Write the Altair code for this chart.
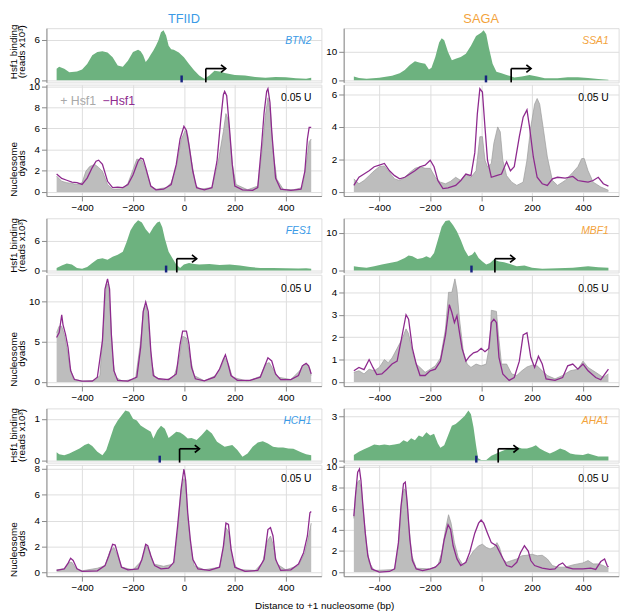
import altair as alt
import pandas as pd

FONT = "Liberation Sans"
W = 279
H_TOP = 55
H_BOT = 113
XDOM = [-540, 540]

GREEN = "#6db27f"
GREY_FILL = "#bdbdbd"
GREY_LINE = "#9a9a9a"
PURPLE = "#8e2a8e"
NAVY = "#17237f"
TFIID_BLUE = "#3a9ae6"
SAGA_ORANGE = "#f3a33c"

# ---------------- data (bp, value) ----------------
BTN2_HSF = [(-500,1.7),(-490,2.0),(-470,1.7),(-450,1.2),(-420,1.3),(-400,1.6),(-380,2.4),(-360,3.7),(-340,4.2),(-320,4.3),(-300,4.1),(-280,3.4),(-260,2.2),(-240,2.0),(-220,2.9),(-200,4.2),(-180,4.5),(-170,4.3),(-160,3.7),(-150,2.7),(-140,3.2),(-130,3.8),(-120,4.4),(-110,5.1),(-100,5.9),(-90,7.1),(-80,7.4),(-70,6.6),(-60,5.1),(-50,4.6),(-40,4.5),(-20,4.1),(0,3.4),(20,2.4),(40,1.5),(60,0.7),(80,0.25),(100,0.7),(120,1.4),(140,1.3),(160,1.1),(200,0.8),(240,0.7),(280,0.5),(320,0.4),(360,0.5),(400,0.45),(440,0.3),(480,0.25),(500,0.4)]
BTN2_MINUS = [(-500,1.7),(-480,1.27),(-460,1.1),(-440,0.93),(-420,0.87),(-400,0.7),(-380,1.3),(-360,2.3),(-345,2.9),(-335,3.0),(-320,2.6),(-300,1.0),(-280,0.4),(-260,0.45),(-240,0.4),(-220,0.7),(-200,1.6),(-180,2.9),(-170,3.2),(-160,3.1),(-150,2.3),(-130,0.55),(-110,0.2),(-80,0.25),(-50,0.7),(-30,2.6),(-15,5.0),(0,6.2),(10,5.8),(20,4.4),(35,1.95),(50,0.4),(80,0.2),(110,0.4),(130,2.9),(145,6.9),(155,9.2),(160,9.5),(168,9.1),(180,5.7),(190,2.6),(200,0.55),(230,0.2),(270,0.15),(290,0.4),(305,4.4),(315,7.5),(325,9.5),(330,9.75),(338,8.45),(345,5.7),(360,1.3),(380,0.25),(420,0.15),(460,0.25),(475,1.95),(485,5.0),(492,6.1),(500,6.1)]
BTN2_PLUS = [(-500,1.5),(-480,1.0),(-460,0.87),(-440,0.8),(-420,0.7),(-400,0.87),(-385,1.95),(-370,2.4),(-350,2.6),(-335,2.3),(-320,1.95),(-300,0.7),(-280,0.25),(-240,0.3),(-220,0.8),(-200,2.1),(-185,3.1),(-165,3.0),(-150,2.1),(-130,0.55),(-110,0.25),(-70,0.4),(-50,0.87),(-30,2.3),(-10,5.0),(5,5.8),(15,5.35),(30,2.9),(45,0.7),(60,0.25),(110,0.4),(135,2.9),(155,5.7),(165,7.4),(175,6.75),(190,2.6),(205,0.7),(250,0.2),(290,0.55),(305,3.5),(320,7.2),(330,8.9),(340,7.5),(350,3.8),(365,1.2),(390,0.25),(430,0.2),(465,0.4),(480,2.6),(492,4.75),(500,5.0)]

SSA1_HSF = [(-500,1.35),(-480,0.8),(-450,0.55),(-400,0.9),(-350,1.6),(-320,2.5),(-300,3.6),(-280,5.3),(-260,6.6),(-240,6.1),(-220,5.8),(-205,3.8),(-195,4.4),(-180,8.1),(-165,13.1),(-155,14.6),(-145,13.9),(-130,9.8),(-115,7.0),(-100,7.5),(-80,8.1),(-60,9.2),(-40,12.0),(-20,15.4),(0,16.5),(10,17.4),(20,15.95),(30,11.5),(45,5.8),(60,3.0),(80,2.5),(100,1.9),(130,1.0),(160,1.35),(190,1.9),(220,1.35),(250,0.7),(300,0.7),(340,1.1),(380,1.1),(420,0.8),(460,0.45),(500,0.2)]
SSA1_MINUS = [(-500,0.4),(-480,0.9),(-460,1.1),(-440,1.3),(-420,1.55),(-400,1.65),(-380,1.75),(-360,1.3),(-340,1.0),(-320,0.8),(-300,0.9),(-280,1.1),(-260,1.3),(-240,1.55),(-220,1.65),(-200,1.95),(-185,1.55),(-170,0.7),(-150,0.2),(-130,0.25),(-100,0.4),(-80,0.7),(-60,1.1),(-40,1.0),(-25,2.4),(-15,4.8),(-5,6.35),(5,6.15),(15,4.0),(25,1.95),(40,0.9),(60,1.0),(80,1.1),(100,1.85),(115,1.3),(130,1.55),(150,3.4),(165,4.6),(180,5.05),(190,4.0),(205,2.15),(220,0.9),(240,0.5),(260,0.4),(280,0.8),(300,0.9),(330,0.85),(360,0.95),(380,0.7),(400,0.65),(420,0.6),(440,0.7),(460,0.9),(480,0.5),(500,0.35)]
SSA1_PLUS = [(-500,0.8),(-480,0.5),(-460,0.7),(-440,1.0),(-420,1.3),(-400,1.55),(-380,1.6),(-360,1.2),(-340,0.8),(-320,0.7),(-300,0.9),(-280,1.2),(-260,1.45),(-240,1.55),(-220,1.45),(-200,1.45),(-180,0.9),(-160,0.6),(-140,0.5),(-120,0.65),(-100,0.9),(-80,0.7),(-60,1.1),(-40,0.9),(-20,1.3),(-5,3.4),(5,3.4),(15,1.95),(25,1.55),(40,1.75),(50,3.0),(65,4.0),(75,3.7),(85,1.95),(100,1.0),(120,0.6),(140,0.4),(165,0.6),(180,1.95),(195,4.0),(210,5.4),(220,5.75),(230,5.4),(245,3.8),(260,2.15),(280,0.7),(300,0.4),(330,0.7),(360,1.2),(380,1.55),(395,2.05),(405,2.05),(420,1.3),(440,0.6),(470,0.3),(500,0.1)]

FES1_HSF = [(-500,0.5),(-480,1.0),(-460,1.4),(-440,1.2),(-420,0.5),(-400,0.35),(-380,0.7),(-360,1.5),(-340,2.3),(-320,2.5),(-300,2.2),(-280,2.8),(-260,3.2),(-240,3.8),(-225,5.8),(-210,8.1),(-195,9.4),(-180,10.2),(-165,9.75),(-150,8.4),(-135,7.45),(-120,8.8),(-105,9.75),(-95,9.95),(-85,8.8),(-75,6.5),(-60,3.8),(-45,2.5),(-30,1.2),(-15,0.5),(0,1.2),(20,1.5),(40,1.3),(60,1.2),(100,1.3),(140,1.1),(180,1.2),(220,1.0),(260,0.7),(300,0.5),(350,0.5),(400,0.45),(450,0.4),(480,0.45),(500,0.35)]
FES1_MINUS = [(-500,5.5),(-490,6.1),(-480,8.3),(-475,7.1),(-465,5.9),(-455,4.25),(-445,1.4),(-430,0.3),(-400,0.1),(-360,0.1),(-340,0.6),(-320,5.1),(-310,11.5),(-300,12.75),(-292,11.5),(-285,5.9),(-275,1.4),(-260,0.2),(-220,0.1),(-185,0.6),(-170,4.25),(-160,8.7),(-150,9.9),(-140,8.7),(-130,3.85),(-120,0.8),(-100,0.4),(-60,0.3),(-30,1.0),(-15,4.65),(-5,6.3),(10,6.3),(20,4.65),(30,1.8),(45,0.4),(80,0.15),(120,0.6),(140,1.6),(155,2.8),(163,3.35),(172,2.4),(185,0.8),(210,0.2),(260,0.2),(300,0.6),(315,1.8),(330,3.0),(345,2.6),(360,1.0),(380,0.3),(420,0.3),(450,0.8),(465,2.0),(480,2.3),(490,2.0),(500,1.0)]
FES1_PLUS = [(-500,6.1),(-490,6.9),(-480,6.9),(-470,5.9),(-460,4.25),(-450,2.2),(-435,0.4),(-400,0.1),(-350,0.2),(-330,0.8),(-315,7.5),(-305,12.1),(-298,12.1),(-290,9.1),(-280,3.0),(-270,0.6),(-240,0.1),(-190,0.4),(-170,5.05),(-158,9.1),(-148,9.5),(-138,7.1),(-128,2.6),(-115,0.6),(-80,0.2),(-40,0.6),(-20,2.6),(-5,5.65),(10,5.45),(25,3.0),(40,0.8),(80,0.15),(125,0.8),(145,1.8),(160,3.0),(175,2.2),(190,0.6),(250,0.1),(300,0.7),(320,2.2),(335,2.4),(350,1.6),(370,0.6),(420,0.3),(455,1.4),(470,2.15),(485,2.2),(495,1.6),(500,0.8)]

MBF1_HSF = [(-500,1.1),(-480,0.95),(-450,0.7),(-420,1.1),(-390,1.55),(-360,2.0),(-330,2.4),(-300,3.3),(-285,4.0),(-270,3.75),(-250,3.05),(-230,3.3),(-215,3.75),(-200,3.3),(-185,4.6),(-170,8.1),(-155,11.6),(-140,13.1),(-125,13.3),(-110,12.0),(-95,10.3),(-80,8.1),(-65,5.5),(-50,3.75),(-35,4.2),(-25,5.05),(-10,3.3),(5,2.4),(20,1.55),(35,2.0),(50,2.9),(70,2.4),(90,2.2),(110,1.8),(140,1.1),(170,1.3),(200,0.7),(240,0.45),(300,0.6),(360,0.7),(420,1.1),(460,0.85),(500,0.7)]
MBF1_MINUS = [(-500,0.5),(-480,0.65),(-460,0.55),(-440,1.0),(-425,0.65),(-410,0.33),(-390,0.36),(-370,0.57),(-350,0.8),(-330,0.93),(-310,2.1),(-295,3.0),(-285,2.8),(-270,1.5),(-255,0.8),(-240,0.29),(-220,0.29),(-200,0.5),(-180,0.57),(-160,0.93),(-140,2.1),(-125,3.45),(-115,3.1),(-105,2.65),(-95,2.95),(-85,2.2),(-75,1.5),(-60,0.93),(-45,1.15),(-30,1.3),(-15,1.35),(0,1.5),(15,1.35),(30,1.5),(40,2.65),(50,2.8),(60,2.65),(70,1.1),(85,0.36),(110,0.07),(130,0.2),(150,0.93),(165,2.1),(180,2.2),(195,1.1),(210,0.65),(225,1.15),(240,0.8),(255,0.14),(290,0.07),(320,0.2),(340,0.72),(360,0.8),(380,0.57),(400,0.8),(420,0.5),(450,0.2),(470,0.1),(500,0.57)]
MBF1_PLUS = [(-500,0.43),(-480,0.5),(-460,0.36),(-440,0.57),(-420,0.5),(-400,0.65),(-380,1.0),(-365,0.86),(-350,1.07),(-330,1.5),(-310,1.93),(-295,2.37),(-285,2.15),(-270,1.36),(-255,0.8),(-240,0.65),(-220,0.43),(-200,0.57),(-180,0.72),(-160,1.07),(-140,2.37),(-128,4.0),(-115,4.0),(-103,4.6),(-95,4.1),(-85,2.8),(-70,1.36),(-55,0.8),(-40,0.65),(-20,0.8),(0,0.72),(20,0.8),(35,1.8),(40,3.2),(60,3.15),(68,2.1),(80,0.8),(100,0.8),(120,0.36),(140,0.29),(160,0.5),(180,0.67),(200,0.75),(220,0.72),(240,0.5),(260,0.29),(290,0.14),(320,0.29),(350,0.5),(380,0.57),(400,0.93),(420,0.65),(450,0.43),(480,0.2),(500,0.36)]

HCH1_HSF = [(-500,0.2),(-490,0.15),(-470,0.13),(-450,0.17),(-430,0.23),(-410,0.29),(-390,0.37),(-375,0.41),(-360,0.35),(-340,0.21),(-320,0.13),(-305,0.25),(-290,0.53),(-275,0.8),(-260,0.96),(-245,1.08),(-230,1.2),(-215,1.17),(-200,1.0),(-185,0.96),(-170,0.84),(-150,0.76),(-130,0.69),(-120,0.53),(-105,0.72),(-90,0.83),(-75,0.76),(-60,0.54),(-45,0.61),(-30,0.69),(-15,0.67),(0,0.61),(15,0.53),(30,0.54),(50,0.49),(70,0.61),(90,0.75),(110,0.65),(130,0.45),(160,0.33),(190,0.37),(210,0.25),(230,0.09),(250,0.17),(270,0.33),(290,0.43),(310,0.46),(330,0.41),(350,0.33),(370,0.31),(390,0.31),(410,0.29),(430,0.28),(460,0.2),(480,0.15),(500,0.13)]
HCH1_MINUS = [(-500,0.13),(-470,0.25),(-455,0.7),(-445,1.07),(-435,0.9),(-420,0.25),(-400,0.05),(-340,0.1),(-310,0.5),(-295,1.27),(-280,2.15),(-270,2.1),(-258,1.27),(-245,0.38),(-220,0.18),(-180,0.25),(-165,1.0),(-150,2.15),(-142,2.05),(-130,1.27),(-115,0.5),(-90,0.25),(-60,0.3),(-40,0.76),(-25,3.55),(-10,6.6),(0,8.0),(7,7.1),(15,4.6),(25,2.55),(35,1.0),(55,0.25),(100,0.13),(140,0.38),(155,2.0),(165,3.8),(175,3.7),(185,1.8),(200,0.38),(240,0.05),(290,0.13),(315,1.0),(330,3.3),(340,3.45),(350,2.8),(360,1.0),(380,0.13),(420,0.18),(450,0.63),(470,1.5),(485,2.8),(495,4.6),(500,4.7)]
HCH1_PLUS = [(-500,0.18),(-470,0.25),(-450,0.76),(-440,0.76),(-425,0.3),(-400,0.1),(-340,0.3),(-310,0.5),(-290,1.65),(-275,1.9),(-260,1.27),(-245,0.38),(-200,0.18),(-165,0.9),(-148,2.05),(-135,1.65),(-120,0.63),(-80,0.45),(-40,0.63),(-25,3.05),(-12,6.35),(0,7.25),(7,6.85),(15,4.3),(28,1.8),(40,0.5),(80,0.18),(140,0.38),(155,1.8),(165,3.45),(178,3.05),(190,1.0),(210,0.2),(280,0.13),(310,0.76),(325,2.3),(340,2.8),(352,2.05),(365,0.63),(400,0.18),(450,0.5),(475,1.5),(490,2.8),(500,3.8)]

AHA1_HSF = [(-500,0.38),(-480,0.6),(-460,0.78),(-440,0.93),(-420,1.09),(-400,1.04),(-380,1.09),(-360,1.04),(-340,1.09),(-320,1.16),(-305,1.38),(-290,1.27),(-275,1.53),(-260,1.38),(-245,1.71),(-230,1.6),(-215,1.93),(-200,1.71),(-185,1.82),(-170,1.16),(-160,0.87),(-145,1.04),(-130,1.71),(-115,2.38),(-100,2.49),(-85,2.71),(-65,3.04),(-50,3.42),(-40,3.16),(-30,2.27),(-20,1.04),(-12,0.16),(0,0.04),(20,0.04),(40,0.33),(60,0.49),(80,0.64),(100,0.78),(120,0.82),(140,0.93),(160,0.82),(180,0.82),(200,0.93),(215,1.04),(230,0.82),(250,0.64),(270,0.49),(290,0.64),(310,0.82),(330,0.71),(350,0.49),(370,0.42),(400,0.38),(420,0.49),(440,0.38),(460,0.27),(480,0.27),(500,0.27)]
AHA1_MINUS = [(-500,5.3),(-493,7.45),(-485,9.5),(-478,9.8),(-472,8.7),(-465,6.5),(-455,3.7),(-445,1.55),(-430,0.3),(-400,0.0),(-360,0.06),(-340,0.3),(-325,2.8),(-315,6.2),(-305,8.4),(-298,8.55),(-290,6.5),(-280,3.1),(-270,1.1),(-255,0.3),(-230,0.15),(-200,0.3),(-180,0.47),(-160,0.93),(-145,3.1),(-130,4.5),(-120,4.05),(-110,2.5),(-95,1.25),(-80,0.62),(-60,0.93),(-45,1.86),(-25,3.7),(-10,4.65),(0,4.95),(10,4.65),(25,3.7),(40,2.8),(60,2.5),(80,1.55),(100,0.62),(120,0.47),(140,0.93),(155,1.86),(170,2.5),(185,2.0),(195,1.1),(210,0.62),(240,0.37),(270,0.25),(290,0.3),(305,0.68),(320,0.87),(335,0.47),(360,0.3),(400,0.3),(430,0.37),(450,0.25),(470,1.0),(485,1.25),(495,0.62),(500,0.47)]
AHA1_PLUS = [(-500,5.1),(-493,7.45),(-485,8.55),(-478,8.75),(-470,7.75),(-460,4.95),(-450,2.5),(-440,0.93),(-420,0.15),(-340,0.25),(-325,2.5),(-313,6.5),(-303,7.9),(-295,7.75),(-285,4.65),(-272,1.55),(-255,0.37),(-200,0.3),(-170,0.62),(-155,1.86),(-140,4.05),(-128,5.45),(-118,4.65),(-105,2.8),(-90,1.4),(-70,0.62),(-50,1.25),(-30,2.0),(-10,2.5),(5,2.65),(20,2.35),(35,2.2),(50,2.35),(62,2.8),(72,2.35),(85,1.25),(100,0.93),(120,1.1),(140,1.25),(160,1.55),(180,1.6),(200,1.7),(220,1.55),(240,1.6),(260,1.25),(280,0.62),(300,0.47),(330,0.47),(360,0.68),(380,0.78),(400,0.87),(420,1.1),(440,0.78),(460,0.78),(480,0.62),(500,0.37)]

GENES = ["BTN2", "SSA1", "FES1", "MBF1", "HCH1", "AHA1"]
GROUPS = ["TFIID", "SAGA"]
TSS = [86, 118, -28, 54, -17, 67]
HSE = [-9, 19, -70, -38, -95, -19]
TOP_TICKS = [[0, 6], [0, 10], [0, 6], [0, 10], [0, 1], [0, 3]]
BOT_TICKS = [[0, 2, 4, 6, 8, 10], [0, 2, 4, 6], [0, 5, 10], [0, 1, 2, 3, 4], [0, 2, 4, 6, 8], [0, 2, 4, 6, 8, 10]]
X_TICKS = [-400, -200, 0, 200, 400]
HSF_DATA = [BTN2_HSF, SSA1_HSF, FES1_HSF, MBF1_HSF, HCH1_HSF, AHA1_HSF]
PLUS_DATA = [BTN2_PLUS, SSA1_PLUS, FES1_PLUS, MBF1_PLUS, HCH1_PLUS, AHA1_PLUS]
MINUS_DATA = [BTN2_MINUS, SSA1_MINUS, FES1_MINUS, MBF1_MINUS, HCH1_MINUS, AHA1_MINUS]
DOSE = "0.05 U"

ONE = pd.DataFrame({"a": [0]})
ROW_GAP = 22.5
INNER_GAP = 2.3


def xenc(field, axis):
    return alt.X(f"{field}:Q", scale=alt.Scale(domain=XDOM, nice=False, zero=False), axis=axis)


def yscale(m):
    return alt.Scale(domain=[-0.04 * m, 1.04 * m], nice=False, zero=False)


def yaxis(ticks):
    return alt.Axis(values=ticks, title=None, format="d", labelOverlap=False)


def label(text, x, y, color="black", size=10, align="center", angle=0, style="normal"):
    return alt.Chart(ONE).mark_text(
        text=text, align=align, baseline="middle", color=color, fontSize=size,
        font=FONT, angle=angle, fontStyle=style
    ).encode(x=alt.value(x), y=alt.value(y))


def top_panel(i, left, row):
    df = pd.DataFrame(HSF_DATA[i], columns=["x", "y"])
    m = df["y"].max()
    gcolor = TFIID_BLUE if left else SAGA_ORANGE
    area = alt.Chart(df).mark_area(color=GREEN, opacity=1).encode(
        x=xenc("x", None), y=alt.Y("y:Q", scale=yscale(m), axis=yaxis(TOP_TICKS[i]))
    )
    ev = pd.DataFrame({"x": [TSS[i]], "x2": [TSS[i] + 78], "h": [HSE[i]]})
    vert = alt.Chart(ev).mark_rule(color="black", strokeWidth=1.7).encode(
        x=xenc("x", None), y=alt.value(H_TOP), y2=alt.value(H_TOP - 14))
    horiz = alt.Chart(ev).mark_rule(color="black", strokeWidth=1.7).encode(
        x=xenc("x", None), x2="x2:Q", y=alt.value(H_TOP - 14))
    head = alt.Chart(ev).mark_point(shape="M-1,-0.8L0,0L-1,0.8", size=90, filled=False,
                                    color="black", strokeWidth=1.7, opacity=1).encode(
        x=xenc("x2", None), y=alt.value(H_TOP - 14))
    hse = alt.Chart(ev).mark_rule(color=NAVY, strokeWidth=2.5, strokeCap="butt").encode(
        x=xenc("h", None), y=alt.value(H_TOP), y2=alt.value(H_TOP - 7))
    name = label(GENES[i], W - 10, 13, color=gcolor, size=10.5, align="right", style="italic")
    layers = [area, vert, horiz, head, hse, name]
    if left:
        cy = 24 if row == 0 else 27.5
        layers.append(label("Hsf1 binding", -33, cy, size=10, angle=270))
        layers.append(label("(reads x10³)", -24.5, cy, size=10, angle=270))
    if row == 0:
        layers.append(label(GROUPS[0] if left else GROUPS[1], W / 2, -9, color=gcolor, size=13))
    return alt.layer(*layers).properties(width=W, height=H_TOP)


def bottom_panel(i, left, row):
    dp = pd.DataFrame(PLUS_DATA[i], columns=["x", "y"])
    dm = pd.DataFrame(MINUS_DATA[i], columns=["x", "y"])
    m = max(dp["y"].max(), dm["y"].max())
    ys = yscale(m)
    xax = alt.Axis(values=X_TICKS, title=None, labelFlush=False, labelOverlap=False)
    ya = yaxis(BOT_TICKS[i])
    area = alt.Chart(dp).mark_area(color=GREY_FILL, opacity=1,
                                   line={"color": GREY_LINE, "strokeWidth": 0.7}).encode(
        x=xenc("x", xax), y=alt.Y("y:Q", scale=ys, axis=ya))
    line = alt.Chart(dm).mark_line(color=PURPLE, strokeWidth=1.3).encode(
        x=xenc("x", xax), y=alt.Y("y:Q", scale=ys, axis=ya))
    dose = label(DOSE, W - 10, 14, size=10.5, align="right")
    layers = [area, line, dose]
    if i == 0:
        layers.append(label("+ Hsf1", 14, 17, color="#a8a8a8", size=12.5, align="left"))
        layers.append(label("\u2212Hsf1", 57, 17, color=PURPLE, size=12.5, align="left"))
    if left:
        layers.append(label("Nucleosome", -33, 86, size=10, angle=270))
        layers.append(label("dyads", -24.5, 80, size=10, angle=270))
    return alt.layer(*layers).properties(width=W, height=H_BOT)


def spacer():
    return alt.Chart(ONE).mark_point(opacity=0).encode(
        x=alt.value(0), y=alt.value(0)
    ).properties(width=W, height=ROW_GAP - 2 * INNER_GAP,
                 view=alt.ViewBackground(stroke="transparent"))


cells = []
for r in range(3):
    if r > 0:
        cells += [spacer(), spacer()]
    cells += [top_panel(2 * r, True, r), top_panel(2 * r + 1, False, r)]
    cells += [bottom_panel(2 * r, True, r), bottom_panel(2 * r + 1, False, r)]

chart = alt.concat(
    *cells, columns=2, bounds="flush", align="each",
    spacing={"row": INNER_GAP, "column": 22.6}
).properties(
    padding=0,
    title=alt.TitleParams("Distance to +1 nucleosome (bp)", orient="bottom", anchor="middle",
                          fontSize=10, font=FONT, fontWeight="normal", offset=8, dx=11)
).configure_view(stroke="black", strokeWidth=1.2).configure_axis(
    domain=False, grid=False, tickColor="black", tickSize=4, tickWidth=1,
    labelFont=FONT, labelFontSize=10, labelColor="black", labelPadding=1.5
).configure(background="white")

chart.save("out.html", embed_options={"renderer": "svg", "actions": False})
